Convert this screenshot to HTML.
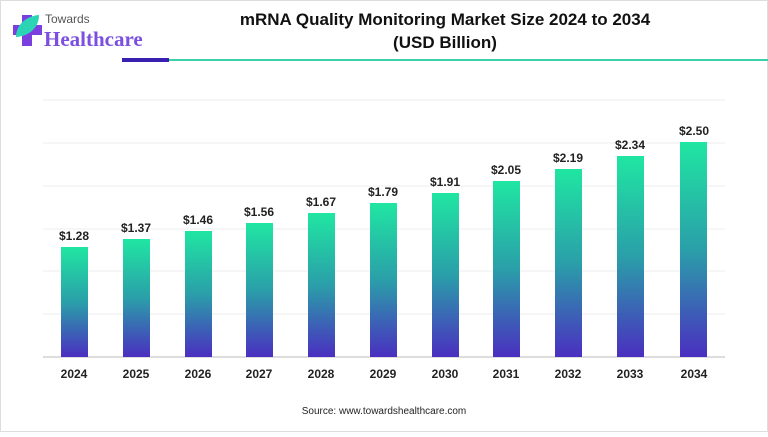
<!DOCTYPE html>
<html><head><style>
body{margin:0;width:768px;height:432px;overflow:hidden;background:#fff;font-family:"Liberation Sans",sans-serif}
</style></head><body>
<svg width="768" height="432" xmlns="http://www.w3.org/2000/svg">
<defs><linearGradient id="g" x1="0" y1="0" x2="0" y2="1">
<stop offset="0" stop-color="#20e6a2"/><stop offset="0.5" stop-color="#2a9fa9"/><stop offset="1" stop-color="#4a2fc0"/></linearGradient></defs>
<rect x="0.5" y="0.5" width="767" height="431" fill="none" stroke="#ddd"/>
<!-- logo -->
<path d="M22 15h10v10h10v10h-10v11h-10v-11h-9v-10h9z" fill="#7b3fe0"/>
<path d="M16 37c0-12 10-21 23-22c0 12-9 21-23 22z" fill="#2ad4b5"/>
<text x="45" y="23" font-size="12" fill="#555">Towards</text>
<text x="44" y="46" font-size="21" font-weight="bold" font-family="Liberation Serif,serif" fill="#7b4fe0">Healthcare</text>
<rect x="122" y="58" width="47" height="4" fill="#3a20b0"/>
<rect x="169" y="59" width="599" height="2" fill="#3ccfae"/>
<text x="445" y="25" font-size="17" font-weight="bold" text-anchor="middle" fill="#111">mRNA Quality Monitoring Market Size 2024 to 2034</text>
<text x="445" y="48" font-size="17" font-weight="bold" text-anchor="middle" fill="#111">(USD Billion)</text>
<g stroke="#eee" stroke-width="1">
<line x1="43" y1="100" x2="725" y2="100"/><line x1="43" y1="143" x2="725" y2="143"/><line x1="43" y1="186" x2="725" y2="186"/><line x1="43" y1="229" x2="725" y2="229"/><line x1="43" y1="271" x2="725" y2="271"/><line x1="43" y1="314" x2="725" y2="314"/>
</g>
<line x1="43" y1="357" x2="725" y2="357" stroke="#bbb"/>
<g font-size="12" font-weight="bold" text-anchor="middle" fill="#222">
<rect x="61" y="247" width="27" height="110" fill="url(#g)"/><text x="74" y="240">$1.28</text><text x="74" y="378">2024</text>
<rect x="123" y="239" width="27" height="118" fill="url(#g)"/><text x="136" y="232">$1.37</text><text x="136" y="378">2025</text>
<rect x="185" y="231" width="27" height="126" fill="url(#g)"/><text x="198" y="224">$1.46</text><text x="198" y="378">2026</text>
<rect x="246" y="223" width="27" height="134" fill="url(#g)"/><text x="259" y="216">$1.56</text><text x="259" y="378">2027</text>
<rect x="308" y="213" width="27" height="144" fill="url(#g)"/><text x="321" y="206">$1.67</text><text x="321" y="378">2028</text>
<rect x="370" y="203" width="27" height="154" fill="url(#g)"/><text x="383" y="196">$1.79</text><text x="383" y="378">2029</text>
<rect x="432" y="193" width="27" height="164" fill="url(#g)"/><text x="445" y="186">$1.91</text><text x="445" y="378">2030</text>
<rect x="493" y="181" width="27" height="176" fill="url(#g)"/><text x="506" y="174">$2.05</text><text x="506" y="378">2031</text>
<rect x="555" y="169" width="27" height="188" fill="url(#g)"/><text x="568" y="162">$2.19</text><text x="568" y="378">2032</text>
<rect x="617" y="156" width="27" height="201" fill="url(#g)"/><text x="630" y="149">$2.34</text><text x="630" y="378">2033</text>
<rect x="680" y="142" width="27" height="215" fill="url(#g)"/><text x="694" y="135">$2.50</text><text x="694" y="378">2034</text>
</g>
<text x="384" y="414" font-size="10" text-anchor="middle" fill="#222">Source: www.towardshealthcare.com</text>
</svg>
</body></html>
